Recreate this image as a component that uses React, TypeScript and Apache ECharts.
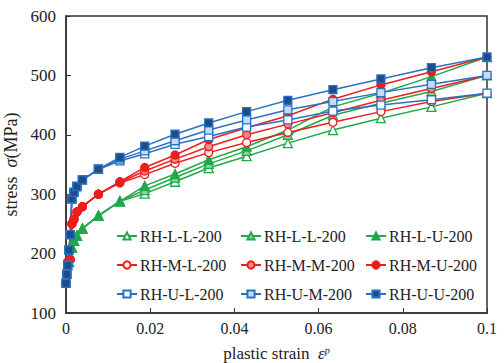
import React, { useEffect, useRef } from "react";
import * as echarts from "echarts";

// strain grids (plastic strain) for each family
const strainU = [0, 0.0002, 0.0004, 0.0007, 0.001, 0.0014, 0.0019, 0.0026, 0.0039, 0.0077, 0.0128, 0.0187, 0.0259, 0.0339, 0.0429, 0.0527, 0.0634, 0.0748, 0.0868, 0.1];
const strainM = [0.0004, 0.001, 0.0014, 0.0019, 0.0026, 0.0039, 0.0077, 0.0128, 0.0187, 0.0259, 0.0339, 0.0429, 0.0527, 0.0634, 0.0748, 0.0868, 0.1];
const strainL = [0.0007, 0.0014, 0.0019, 0.0026, 0.0039, 0.0077, 0.0128, 0.0187, 0.0259, 0.0339, 0.0429, 0.0527, 0.0634, 0.0748, 0.0868, 0.1];

// stress (MPa)
const RH_L_L = [186, 210, 222, 230, 242, 264, 288, 301, 321, 344, 364, 386, 408, 428, 447, 470];
const RH_L_M = [186, 210, 222, 230, 242, 264, 288, 307, 328, 351, 373, 400, 433, 453, 473, 500];
const RH_L_U = [186, 210, 222, 230, 242, 264, 288, 314, 334, 358, 380, 408, 447, 470, 498, 531];
const RH_M_L = [186, 190, 250, 258, 270, 279, 300, 319, 333, 352, 370, 387, 404, 421, 439, 456, 470];
const RH_M_M = [186, 190, 250, 258, 270, 279, 300, 320, 339, 359, 380, 400, 418, 437, 458, 478, 500];
const RH_M_U = [186, 190, 250, 258, 270, 279, 300, 321, 345, 366, 392, 412, 432, 460, 484, 506, 531];
const RH_U_L = [150, 165, 180, 206, 232, 292, 303, 313, 324, 342, 356, 368, 384, 397, 413, 425, 440, 450, 459, 470];
const RH_U_M = [150, 165, 180, 206, 232, 292, 303, 313, 324, 342, 359, 373, 390, 408, 425, 442, 456, 471, 485, 500];
const RH_U_U = [150, 165, 180, 206, 232, 292, 303, 313, 324, 342, 362, 381, 401, 420, 439, 458, 476, 494, 513, 531];

const xTicks = [0, 0.02, 0.04, 0.06, 0.08, 0.1];

const GREEN = "#22a84a";
const RED = "#ee1c1c";
const BLUE = "#2a72c0";
const FONT = "'Times New Roman', 'Liberation Serif', serif";

const pair = (xs: number[], ys: number[]) => ys.map((y, i) => [xs[i], y]);

export default function App() {
  const ref = useRef<HTMLDivElement>(null);
  useEffect(() => {
    if (!ref.current) return;
    const chart = echarts.init(ref.current, null, { renderer: "svg" });
    const mk = (name: string, xs: number[], ys: number[], color: string, symbol: string, fill: string) => ({
      name,
      type: "line",
      data: pair(xs, ys),
      symbol,
      symbolSize: symbol === "triangle" ? 9 : 8,
      showSymbol: true,
      lineStyle: { color, width: 1.5 },
      itemStyle: { color: fill, borderColor: color, borderWidth: 1.3 },
      z: 2,
    });
    const series = [
      mk("RH-L-L-200", strainL, RH_L_L, GREEN, "triangle", "#ffffff"),
      mk("RH-L-M-200", strainL, RH_L_M, GREEN, "triangle", "#8fd3a0"),
      mk("RH-L-U-200", strainL, RH_L_U, GREEN, "triangle", GREEN),
      mk("RH-M-L-200", strainM, RH_M_L, RED, "circle", "#ffffff"),
      mk("RH-M-M-200", strainM, RH_M_M, RED, "circle", "#f28a8a"),
      mk("RH-M-U-200", strainM, RH_M_U, RED, "circle", RED),
      mk("RH-U-L-200", strainU, RH_U_L, BLUE, "rect", "#ffffff"),
      mk("RH-U-M-200", strainU, RH_U_M, BLUE, "rect", "#c6daf2"),
      mk("RH-U-U-200", strainU, RH_U_U, BLUE, "rect", "#1b4d8c"),
    ];
    const legendCols = [
      ["RH-L-L-200", "RH-M-L-200", "RH-U-L-200"],
      ["RH-L-M-200", "RH-M-M-200", "RH-U-M-200"],
      ["RH-L-U-200", "RH-M-U-200", "RH-U-U-200"],
    ];
    const colLeft = [116, 240, 365];
    const legend = legendCols.map((col, ci) => ({
      data: col,
      orient: "vertical",
      left: colLeft[ci],
      top: 228,
      itemGap: 13,
      itemWidth: 20,
      itemHeight: 9,
      selectedMode: false,
      textStyle: { fontFamily: FONT, fontSize: 16, color: "#222", padding: [0, 0, 0, -2] },
      formatter: (n: string) => (n === "RH-L-M-200" ? "RH-L-L-200" : n),
      padding: 0,
    }));
    chart.setOption({
      animation: false,
      backgroundColor: "#ffffff",
      grid: {
        left: 66,
        right: 17,
        top: 16,
        bottom: 50,
        outerBoundsMode: "none",
        containLabel: false,
        show: true,
        borderColor: "#333",
        borderWidth: 1.5,
        backgroundColor: "transparent",
      },
      legend,
      xAxis: {
        type: "value",
        min: 0,
        max: 0.1,
        interval: 0.02,
        axisLine: { show: true, lineStyle: { color: "#333", width: 1.5 } },
        axisTick: { show: true, inside: true, length: 5, lineStyle: { color: "#333" } },
        splitLine: { show: false },
        axisLabel: {
          color: "#222",
          fontFamily: FONT,
          fontSize: 16,
          margin: 7,
          formatter: (v: number) => String(xTicks.find((t) => Math.abs(t - v) < 1e-9) ?? parseFloat(v.toFixed(2))),
        },
        name: "plastic strain  {i|ε}{s|p}",
        nameLocation: "middle",
        nameGap: 32,
        nameTextStyle: {
          color: "#222",
          fontFamily: FONT,
          fontSize: 17,
          rich: {
            i: { fontFamily: FONT, fontStyle: "italic", fontSize: 17, color: "#222" },
            s: { fontFamily: FONT, fontStyle: "italic", fontSize: 10, color: "#222", padding: [0, 0, 7, 0] },
          },
        },
      },
      yAxis: {
        type: "value",
        min: 100,
        max: 600,
        interval: 100,
        axisLine: { show: true, lineStyle: { color: "#333", width: 1.5 } },
        axisTick: { show: true, inside: true, length: 5, lineStyle: { color: "#333" } },
        splitLine: { show: false },
        axisLabel: { color: "#222", fontFamily: FONT, fontSize: 17, margin: 10 },
        name: "stress  {i|σ}(MPa)",
        nameLocation: "middle",
        nameGap: 41,
        nameRotate: 90,
        nameTextStyle: {
          color: "#222",
          fontFamily: FONT,
          fontSize: 18,
          rich: { i: { fontFamily: FONT, fontStyle: "italic", fontSize: 18, color: "#222" } },
        },
      },
      series,
    });
    return () => chart.dispose();
  }, []);
  return <div ref={ref} style={{ width: 504, height: 363, position: "absolute", left: 0, top: 0 }} />;
}
